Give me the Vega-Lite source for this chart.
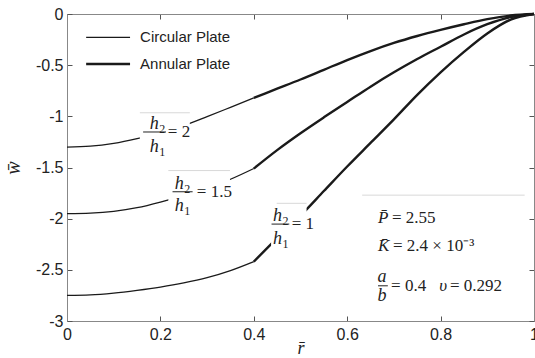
{
  "$schema": "https://vega.github.io/schema/vega-lite/v6.json",
  "width": 467,
  "height": 307,
  "autosize": {"type": "none"},
  "padding": {"left": 67, "top": 14, "right": 1, "bottom": 37},
  "background": "white",
  "config": {
    "view": {"stroke": "#888", "strokeWidth": 1},
    "axis": {
      "grid": false,
      "labelFont": "Liberation Sans",
      "labelFontSize": 16,
      "labelColor": "#222",
      "tickColor": "#555",
      "tickWidth": 1,
      "domainColor": "#888",
      "tickSize": -5,
      "titleColor": "#222",
      "labelFlush": false,
      "labelOverlap": false,
      "labelBound": false
    }
  },
  "datasets": {
    "curves": [
      {"r": 0, "w": -1.30, "ratio": "2", "plate": "Circular"},
      {"r": 0.05, "w": -1.292, "ratio": "2", "plate": "Circular"},
      {"r": 0.1, "w": -1.265, "ratio": "2", "plate": "Circular"},
      {"r": 0.15, "w": -1.218, "ratio": "2", "plate": "Circular"},
      {"r": 0.2, "w": -1.158, "ratio": "2", "plate": "Circular"},
      {"r": 0.25, "w": -1.09, "ratio": "2", "plate": "Circular"},
      {"r": 0.3, "w": -1.003, "ratio": "2", "plate": "Circular"},
      {"r": 0.35, "w": -0.912, "ratio": "2", "plate": "Circular"},
      {"r": 0.4, "w": -0.82, "ratio": "2", "plate": "Circular"},
      {"r": 0.4, "w": -0.82, "ratio": "2", "plate": "Annular"},
      {"r": 0.45, "w": -0.73, "ratio": "2", "plate": "Annular"},
      {"r": 0.5, "w": -0.64, "ratio": "2", "plate": "Annular"},
      {"r": 0.55, "w": -0.545, "ratio": "2", "plate": "Annular"},
      {"r": 0.6, "w": -0.45, "ratio": "2", "plate": "Annular"},
      {"r": 0.65, "w": -0.362, "ratio": "2", "plate": "Annular"},
      {"r": 0.7, "w": -0.283, "ratio": "2", "plate": "Annular"},
      {"r": 0.75, "w": -0.215, "ratio": "2", "plate": "Annular"},
      {"r": 0.8, "w": -0.155, "ratio": "2", "plate": "Annular"},
      {"r": 0.85, "w": -0.1, "ratio": "2", "plate": "Annular"},
      {"r": 0.9, "w": -0.05, "ratio": "2", "plate": "Annular"},
      {"r": 0.95, "w": -0.015, "ratio": "2", "plate": "Annular"},
      {"r": 1, "w": 0, "ratio": "2", "plate": "Annular"},
      {"r": 0, "w": -1.95, "ratio": "1.5", "plate": "Circular"},
      {"r": 0.05, "w": -1.945, "ratio": "1.5", "plate": "Circular"},
      {"r": 0.1, "w": -1.928, "ratio": "1.5", "plate": "Circular"},
      {"r": 0.15, "w": -1.893, "ratio": "1.5", "plate": "Circular"},
      {"r": 0.2, "w": -1.838, "ratio": "1.5", "plate": "Circular"},
      {"r": 0.25, "w": -1.772, "ratio": "1.5", "plate": "Circular"},
      {"r": 0.3, "w": -1.70, "ratio": "1.5", "plate": "Circular"},
      {"r": 0.35, "w": -1.615, "ratio": "1.5", "plate": "Circular"},
      {"r": 0.4, "w": -1.51, "ratio": "1.5", "plate": "Circular"},
      {"r": 0.4, "w": -1.51, "ratio": "1.5", "plate": "Annular"},
      {"r": 0.45, "w": -1.33, "ratio": "1.5", "plate": "Annular"},
      {"r": 0.5, "w": -1.165, "ratio": "1.5", "plate": "Annular"},
      {"r": 0.55, "w": -1.01, "ratio": "1.5", "plate": "Annular"},
      {"r": 0.6, "w": -0.86, "ratio": "1.5", "plate": "Annular"},
      {"r": 0.65, "w": -0.71, "ratio": "1.5", "plate": "Annular"},
      {"r": 0.7, "w": -0.57, "ratio": "1.5", "plate": "Annular"},
      {"r": 0.75, "w": -0.44, "ratio": "1.5", "plate": "Annular"},
      {"r": 0.8, "w": -0.32, "ratio": "1.5", "plate": "Annular"},
      {"r": 0.85, "w": -0.2, "ratio": "1.5", "plate": "Annular"},
      {"r": 0.9, "w": -0.1, "ratio": "1.5", "plate": "Annular"},
      {"r": 0.95, "w": -0.03, "ratio": "1.5", "plate": "Annular"},
      {"r": 1, "w": 0, "ratio": "1.5", "plate": "Annular"},
      {"r": 0, "w": -2.75, "ratio": "1", "plate": "Circular"},
      {"r": 0.05, "w": -2.745, "ratio": "1", "plate": "Circular"},
      {"r": 0.1, "w": -2.727, "ratio": "1", "plate": "Circular"},
      {"r": 0.15, "w": -2.70, "ratio": "1", "plate": "Circular"},
      {"r": 0.2, "w": -2.668, "ratio": "1", "plate": "Circular"},
      {"r": 0.25, "w": -2.628, "ratio": "1", "plate": "Circular"},
      {"r": 0.3, "w": -2.577, "ratio": "1", "plate": "Circular"},
      {"r": 0.35, "w": -2.508, "ratio": "1", "plate": "Circular"},
      {"r": 0.4, "w": -2.42, "ratio": "1", "plate": "Circular"},
      {"r": 0.4, "w": -2.42, "ratio": "1", "plate": "Annular"},
      {"r": 0.45, "w": -2.19, "ratio": "1", "plate": "Annular"},
      {"r": 0.5, "w": -1.97, "ratio": "1", "plate": "Annular"},
      {"r": 0.55, "w": -1.73, "ratio": "1", "plate": "Annular"},
      {"r": 0.6, "w": -1.49, "ratio": "1", "plate": "Annular"},
      {"r": 0.65, "w": -1.26, "ratio": "1", "plate": "Annular"},
      {"r": 0.7, "w": -1.03, "ratio": "1", "plate": "Annular"},
      {"r": 0.75, "w": -0.79, "ratio": "1", "plate": "Annular"},
      {"r": 0.8, "w": -0.57, "ratio": "1", "plate": "Annular"},
      {"r": 0.85, "w": -0.37, "ratio": "1", "plate": "Annular"},
      {"r": 0.9, "w": -0.19, "ratio": "1", "plate": "Annular"},
      {"r": 0.95, "w": -0.055, "ratio": "1", "plate": "Annular"},
      {"r": 1, "w": 0, "ratio": "1", "plate": "Annular"}
    ],
    "boxes": [
      {"r": 0.156, "r2": 0.263, "w": -0.965, "w2": -1.42},
      {"r": 0.217, "r2": 0.349, "w": -1.53, "w2": -1.97},
      {"r": 0.437, "r2": 0.513, "w": -1.85, "w2": -2.3}
    ],
    "boxLines": [
      {"r": 0.156, "r2": 0.263, "w": -0.965},
      {"r": 0.217, "r2": 0.349, "w": -1.53},
      {"r": 0.449, "r2": 0.513, "w": -1.85},
      {"r": 0.632, "r2": 0.98, "w": -1.77}
    ],
    "fracBars": [
      {"r": 0.163, "r2": 0.212, "w": -1.153},
      {"r": 0.226, "r2": 0.269, "w": -1.737},
      {"r": 0.438, "r2": 0.476, "w": -2.053},
      {"r": 0.666, "r2": 0.687, "w": -2.656}
    ],
    "fracParts": [
      {"r": 0.193, "w": -1.125, "main": "h", "sub": "2"},
      {"r": 0.193, "w": -1.345, "main": "h", "sub": "1"},
      {"r": 0.247, "w": -1.71, "main": "h", "sub": "2"},
      {"r": 0.247, "w": -1.925, "main": "h", "sub": "1"},
      {"r": 0.457, "w": -2.027, "main": "h", "sub": "2"},
      {"r": 0.457, "w": -2.245, "main": "h", "sub": "1"},
      {"r": 0.681, "w": -2.62, "main": "a", "sub": ""},
      {"r": 0.681, "w": -2.805, "main": "b", "sub": ""}
    ],
    "italicLeft": [
      {"r": 0.666, "w": -1.994, "text": "P̄"},
      {"r": 0.666, "w": -2.271, "text": "K̄"},
      {"r": 0.797, "w": -2.656, "text": "υ"}
    ],
    "romanLeft": [
      {"r": 0.216, "w": -1.153, "text": "= 2"},
      {"r": 0.278, "w": -1.737, "text": "= 1.5"},
      {"r": 0.481, "w": -2.053, "text": "= 1"},
      {"r": 0.696, "w": -1.994, "text": "= 2.55"},
      {"r": 0.698, "w": -2.271, "text": "= 2.4 × 10⁻³"},
      {"r": 0.694, "w": -2.656, "text": "= 0.4"},
      {"r": 0.82, "w": -2.656, "text": "= 0.292"}
    ],
    "legendLines": [
      {"r": 0.041, "r2": 0.135, "w": -0.228, "plate": "Circular", "label": "Circular Plate"},
      {"r": 0.041, "r2": 0.135, "w": -0.489, "plate": "Annular", "label": "Annular Plate"}
    ]
  },
  "layer": [
    {
      "data": {"name": "curves"},
      "mark": {"type": "line", "color": "#1a1a1a", "interpolate": "monotone"},
      "encoding": {
        "x": {
          "field": "r", "type": "quantitative",
          "scale": {"domain": [0, 1], "nice": false, "zero": false},
          "axis": {
            "orient": "bottom",
            "values": [0, 0.2, 0.4, 0.6, 0.8, 1],
            "labelPadding": 10,
            "labelExpr": "replace(format(datum.value, '~g'), '−', '-')",
            "title": "r̄",
            "titleFont": "Liberation Serif",
            "titleFontStyle": "italic",
            "titleFontWeight": "normal",
            "titleFontSize": 18,
            "titlePadding": -3
          }
        },
        "y": {
          "field": "w", "type": "quantitative",
          "scale": {"domain": [-3, 0], "nice": false, "zero": false},
          "axis": {
            "orient": "left",
            "values": [-3, -2.5, -2, -1.5, -1, -0.5, 0],
            "labelPadding": 9,
            "labelExpr": "replace(format(datum.value, '~g'), '−', '-')",
            "title": "w̄",
            "titleFont": "Liberation Serif",
            "titleFontStyle": "italic",
            "titleFontWeight": "normal",
            "titleFontSize": 20,
            "titlePadding": 12
          }
        },
        "detail": {"field": "ratio", "type": "nominal"},
        "strokeWidth": {
          "field": "plate", "type": "nominal",
          "scale": {"domain": ["Circular", "Annular"], "range": [1.3, 2.4]},
          "legend": null
        }
      }
    },
    {
      "data": {"name": "boxes"},
      "mark": {"type": "rect", "fill": "white"},
      "encoding": {
        "x": {"field": "r", "type": "quantitative", "axis": null},
        "x2": {"field": "r2"},
        "y": {"field": "w", "type": "quantitative", "axis": null},
        "y2": {"field": "w2"}
      }
    },
    {
      "data": {"name": "boxLines"},
      "mark": {"type": "rule", "color": "#d8d8d8", "strokeWidth": 1},
      "encoding": {
        "x": {"field": "r", "type": "quantitative", "axis": null},
        "x2": {"field": "r2"},
        "y": {"field": "w", "type": "quantitative", "axis": null}
      }
    },
    {
      "data": {"name": "fracBars"},
      "mark": {"type": "rule", "color": "#222", "strokeWidth": 1},
      "encoding": {
        "x": {"field": "r", "type": "quantitative", "axis": null},
        "x2": {"field": "r2"},
        "y": {"field": "w", "type": "quantitative", "axis": null}
      }
    },
    {
      "data": {"name": "fracParts"},
      "mark": {"type": "text", "font": "Liberation Serif", "fontStyle": "italic", "fontSize": 18, "color": "#222", "align": "center", "baseline": "alphabetic", "dx": -3},
      "encoding": {
        "x": {"field": "r", "type": "quantitative", "axis": null},
        "y": {"field": "w", "type": "quantitative", "axis": null},
        "text": {"field": "main"}
      }
    },
    {
      "data": {"name": "fracParts"},
      "mark": {"type": "text", "font": "Liberation Serif", "fontSize": 12, "color": "#222", "align": "left", "baseline": "alphabetic", "dx": 2, "dy": 4},
      "encoding": {
        "x": {"field": "r", "type": "quantitative", "axis": null},
        "y": {"field": "w", "type": "quantitative", "axis": null},
        "text": {"field": "sub"}
      }
    },
    {
      "data": {"name": "italicLeft"},
      "mark": {"type": "text", "font": "Liberation Serif", "fontStyle": "italic", "fontSize": 17, "color": "#222", "align": "left", "baseline": "middle"},
      "encoding": {
        "x": {"field": "r", "type": "quantitative", "axis": null},
        "y": {"field": "w", "type": "quantitative", "axis": null},
        "text": {"field": "text"}
      }
    },
    {
      "data": {"name": "romanLeft"},
      "mark": {"type": "text", "font": "Liberation Serif", "fontSize": 17, "color": "#222", "align": "left", "baseline": "middle"},
      "encoding": {
        "x": {"field": "r", "type": "quantitative", "axis": null},
        "y": {"field": "w", "type": "quantitative", "axis": null},
        "text": {"field": "text"}
      }
    },
    {
      "data": {"name": "legendLines"},
      "mark": {"type": "rule", "color": "#1a1a1a"},
      "encoding": {
        "x": {"field": "r", "type": "quantitative", "axis": null},
        "x2": {"field": "r2"},
        "y": {"field": "w", "type": "quantitative", "axis": null},
        "strokeWidth": {
          "field": "plate", "type": "nominal",
          "scale": {"domain": ["Circular", "Annular"], "range": [1.3, 2.4]},
          "legend": null
        }
      }
    },
    {
      "data": {"name": "legendLines"},
      "mark": {"type": "text", "font": "Liberation Sans", "fontSize": 15, "color": "#222", "align": "left", "baseline": "middle", "dx": 10},
      "encoding": {
        "x": {"field": "r2", "type": "quantitative", "axis": null},
        "y": {"field": "w", "type": "quantitative", "axis": null},
        "text": {"field": "label"}
      }
    },
    {
      "data": {"name": "curves"},
      "mark": {"type": "point", "opacity": 0},
      "encoding": {
        "x": {
          "field": "r", "type": "quantitative",
          "axis": {"orient": "top", "values": [0, 0.2, 0.4, 0.6, 0.8, 1], "labels": false, "title": null}
        },
        "y": {
          "field": "w", "type": "quantitative",
          "axis": {"orient": "right", "values": [-3, -2.5, -2, -1.5, -1, -0.5, 0], "labels": false, "title": null}
        }
      }
    }
  ],
  "resolve": {"axis": {"x": "independent", "y": "independent"}}
}
